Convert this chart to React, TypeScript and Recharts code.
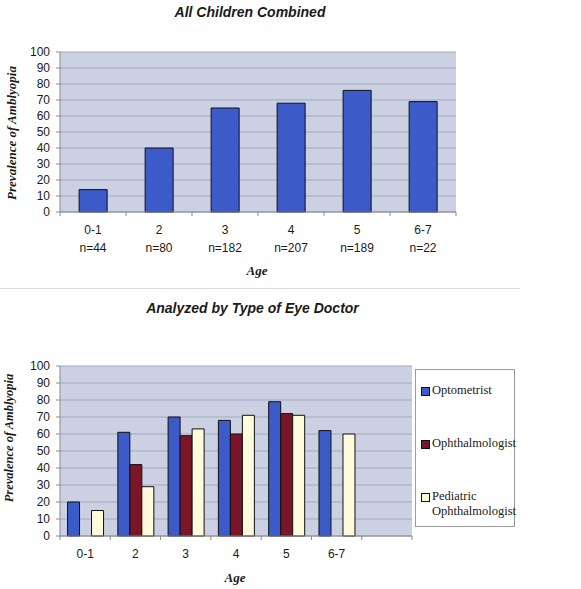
import { Bar, BarChart, CartesianGrid, XAxis, YAxis } from 'recharts';

// Top panel: all children combined
const AGES_ALL = ['0-1', '2', '3', '4', '5', '6-7'];
const COUNTS_ALL = ['n=44', 'n=80', 'n=182', 'n=207', 'n=189', 'n=22'];
const PREVALENCE_ALL = [14, 40, 65, 68, 76, 69];

// Bottom panel: by type of eye doctor (last slot is an empty category)
const AGES_DOC = ['0-1', '2', '3', '4', '5', '6-7', ''];
const OPTOMETRIST = [20, 61, 70, 68, 79, 62, null];
const OPHTHALMOLOGIST = [null, 42, 59, 60, 72, null, null];
const PEDIATRIC = [15, 29, 63, 71, 71, 60, null];

const Y_TICKS = [0, 10, 20, 30, 40, 50, 60, 70, 80, 90, 100];

const SANS = '"Liberation Sans", Arial, sans-serif';
const SERIF = '"Liberation Serif", "Times New Roman", serif';
const PLOT_BG = '#cbd0e2';
const GRID = '#a4a9bf';
const FRAME = '#56628e';
const AXIS = '#8a8a8a';
const TEXT = '#1a1a1a';

const SERIES = [
  { key: 'opt', name: 'Optometrist', color: '#3c5ac8' },
  { key: 'oph', name: 'Ophthalmologist', color: '#7a1628' },
  { key: 'ped', name: 'Pediatric Ophthalmologist', color: '#fdfbdc' },
];

const allData = AGES_ALL.map((age, i) => ({ age, n: COUNTS_ALL[i], value: PREVALENCE_ALL[i] }));
const docData = AGES_DOC.map((age, i) => ({
  age,
  opt: OPTOMETRIST[i],
  oph: OPHTHALMOLOGIST[i],
  ped: PEDIATRIC[i],
}));

// x tick: labels at band centre, tick marks at band boundaries
function AgeTick(props: any) {
  const { x, y, payload, index, count, half, second } = props;
  const off = payload?.offset || half;
  const lineY = y - 4;
  return (
    <g>
      <line x1={x - off} x2={x - off} y1={lineY} y2={lineY + 4} stroke={AXIS} />
      {index === count - 1 && <line x1={x + off} x2={x + off} y1={lineY} y2={lineY + 4} stroke={AXIS} />}
      <text x={x} y={lineY + 22} textAnchor="middle" fontSize={12} fontFamily={SANS} fill={TEXT}>
        {payload.value}
      </text>
      {second && (
        <text x={x} y={lineY + 40} textAnchor="middle" fontSize={12} fontFamily={SANS} fill={TEXT}>
          {second[index]}
        </text>
      )}
    </g>
  );
}

const yTick = { fontSize: 12, fontFamily: SANS, fill: TEXT };

function Frame() {
  return null;
}

export default function App() {
  return (
    <div style={{ position: 'absolute', left: 0, top: 0, width: 581, height: 589, background: '#fff', overflow: 'hidden' }}>
      <div style={{ position: 'absolute', left: 0, top: 4, width: 500, textAlign: 'center', fontFamily: SANS, fontSize: 14, fontWeight: 'bold', fontStyle: 'italic', color: TEXT }}>
        All Children Combined
      </div>
      <div style={{ position: 'absolute', left: 12, top: 133, transform: 'translate(-50%, -50%) rotate(-90deg)', whiteSpace: 'nowrap', fontFamily: SERIF, fontSize: 13, fontWeight: 'bold', fontStyle: 'italic', color: TEXT }}>
        Prevalence of Amblyopia
      </div>
      <div style={{ position: 'absolute', left: 257, top: 271, transform: 'translate(-50%, -50%)', fontFamily: SERIF, fontSize: 13, fontWeight: 'bold', fontStyle: 'italic', color: TEXT }}>
        Age
      </div>
      <div style={{ position: 'absolute', left: 0, top: 288, width: 520, height: 1, background: '#dcdcdc' }} />

      <div style={{ position: 'absolute', left: 0, top: 0 }}>
        <BarChart width={581} height={290} data={allData} margin={{ top: 52, right: 125, left: 8, bottom: 18 }} barCategoryGap="29%">
          <CartesianGrid vertical={false} stroke={GRID} fill={PLOT_BG} fillOpacity={1} />
          <XAxis
            dataKey="age"
            height={60}
            interval={0}
            axisLine={{ stroke: AXIS }}
            tickLine={false}
            tickSize={4}
            tickMargin={0}
            tick={(p: any) => <AgeTick {...p} count={AGES_ALL.length} half={396 / AGES_ALL.length / 2} second={COUNTS_ALL} />}
          />
          <XAxis xAxisId="top" orientation="top" dataKey="age" height={0} tick={false} tickLine={false} axisLine={{ stroke: FRAME }} />
          <YAxis
            domain={[0, 100]}
            ticks={Y_TICKS}
            interval={0}
            width={52}
            tickSize={4}
            tickMargin={6}
            axisLine={{ stroke: AXIS }}
            tickLine={{ stroke: AXIS }}
            tick={yTick}
          />
          <YAxis yAxisId="right" orientation="right" width={0} tick={false} tickLine={false} axisLine={{ stroke: FRAME }} />
          <Bar dataKey="value" fill="#3c5ac8" stroke="#111" strokeWidth={1} isAnimationActive={false} />
        </BarChart>
      </div>

      <div style={{ position: 'absolute', left: 0, top: 300, width: 505, textAlign: 'center', fontFamily: SANS, fontSize: 14, fontWeight: 'bold', fontStyle: 'italic', color: TEXT }}>
        Analyzed by Type of Eye Doctor
      </div>
      <div style={{ position: 'absolute', left: 9, top: 438, transform: 'translate(-50%, -50%) rotate(-90deg)', whiteSpace: 'nowrap', fontFamily: SERIF, fontSize: 12.5, fontWeight: 'bold', fontStyle: 'italic', color: TEXT }}>
        Prevalence of Amblyopia
      </div>
      <div style={{ position: 'absolute', left: 235, top: 578, transform: 'translate(-50%, -50%)', fontFamily: SERIF, fontSize: 13, fontWeight: 'bold', fontStyle: 'italic', color: TEXT }}>
        Age
      </div>

      <div style={{ position: 'absolute', left: 0, top: 290 }}>
        <BarChart width={581} height={299} data={docData} margin={{ top: 76, right: 169, left: 8, bottom: 13 }} barCategoryGap="15%" barGap={0}>
          <CartesianGrid vertical={false} stroke={GRID} fill={PLOT_BG} fillOpacity={1} />
          <XAxis
            dataKey="age"
            height={40}
            interval={0}
            axisLine={{ stroke: AXIS }}
            tickLine={false}
            tickSize={4}
            tickMargin={0}
            tick={(p: any) => <AgeTick {...p} count={AGES_DOC.length} half={352 / AGES_DOC.length / 2} />}
          />
          <XAxis xAxisId="top" orientation="top" dataKey="age" height={0} tick={false} tickLine={false} axisLine={{ stroke: FRAME }} />
          <YAxis
            domain={[0, 100]}
            ticks={Y_TICKS}
            interval={0}
            width={52}
            tickSize={4}
            tickMargin={6}
            axisLine={{ stroke: AXIS }}
            tickLine={{ stroke: AXIS }}
            tick={yTick}
          />
          <YAxis yAxisId="right" orientation="right" width={0} tick={false} tickLine={false} axisLine={{ stroke: FRAME }} />
          {SERIES.map((s) => (
            <Bar key={s.key} dataKey={s.key} name={s.name} fill={s.color} stroke="#111" strokeWidth={1} isAnimationActive={false} />
          ))}
        </BarChart>
      </div>

      <div
        style={{
          position: 'absolute',
          left: 415,
          top: 369,
          width: 100,
          height: 158,
          border: '1px solid #9a9a9a',
          background: '#fff',
          boxSizing: 'border-box',
          fontFamily: SERIF,
          fontSize: 12.5,
          color: TEXT,
        }}
      >
        {SERIES.map((s, i) => (
          <div key={s.key} style={{ position: 'absolute', left: 5, top: 13 + i * 53, display: 'flex', alignItems: 'flex-start', lineHeight: '15px', width: 95 }}>
            <span style={{ width: 7, height: 7, border: '1px solid #111', background: s.color, marginTop: 4, marginRight: 2, flexShrink: 0 }} />
            <span>{s.name}</span>
          </div>
        ))}
      </div>
    </div>
  );
}
